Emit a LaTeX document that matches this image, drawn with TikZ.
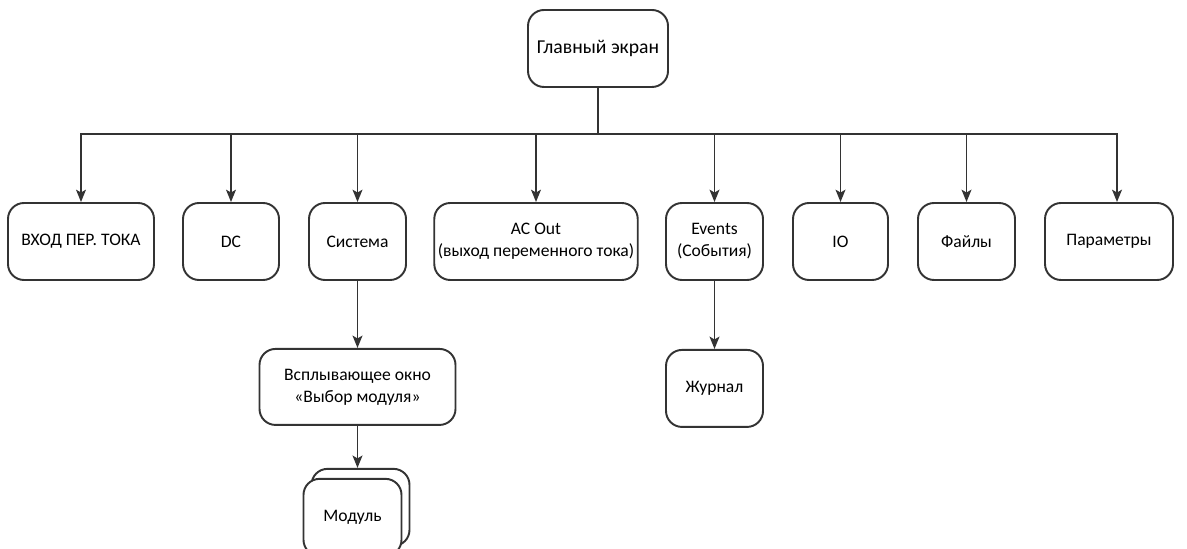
\documentclass[tikz,border=0pt]{standalone}
\usepackage{fontspec}
\setmainfont{Carlito}
\usetikzlibrary{positioning, arrows.meta, shadows}

\begin{document}
\begin{tikzpicture}[line width=1.1pt, draw=black!80, every node/.style={draw=black!80, line width=1.1pt, rounded corners=0.32cm, minimum height=1.54cm, align=center, font=\fontsize{10}{12.5}\selectfont, inner sep=2pt}, >={Stealth[length=7pt, width=5.6pt, inset=1.6pt]}]
    \useasboundingbox (0,0) rectangle (23.74,-10.98);

    \node[minimum width=2.8cm, font=\fontsize{11.2}{14}\selectfont] (main) at (11.96,-0.97) {Главный экран};

    \node[minimum width=2.92cm] (vhod) at (1.62,-4.83) {ВХОД ПЕР. ТОКА};
    \node[minimum width=1.92cm] (dc) at (4.62,-4.83) {DC};
    \node[minimum width=1.94cm] (sistema) at (7.15,-4.83) {Система};
    \node[minimum width=4.04cm] (acout) at (10.72,-4.83) {AC Out\\(выход переменного тока)};
    \node[minimum width=1.94cm] (events) at (14.29,-4.83) {Events\\(События)};
    \node[minimum width=1.9cm] (io) at (16.81,-4.83) {IO};
    \node[minimum width=1.94cm] (files) at (19.33,-4.83) {Файлы};
    \node[minimum width=2.56cm] (params) at (22.18,-4.83) {Параметры};

    \node[minimum width=3.92cm, minimum height=1.52cm] (popup) [below=1.34cm of sistema] {Всплывающее окно\\«Выбор модуля»};
    \node[minimum width=1.96cm, fill=white, copy shadow={shadow xshift=0.16cm, shadow yshift=0.2cm}] (modul) [below=1.04cm of popup, xshift=-0.1cm] {Модуль};
    \node[minimum width=1.94cm] (zhurnal) [below=1.36cm of events] {Журнал};

    \draw[->] (main.south) -- ++(0,-0.92) -| (vhod.north);
    \draw[->] (main.south) -- ++(0,-0.92) -| (dc.north);
    \draw[->] (main.south) -- ++(0,-0.92) -| (sistema.north);
    \draw[->] (main.south) -- ++(0,-0.92) -| (acout.north);
    \draw[->] (main.south) -- ++(0,-0.92) -| (events.north);
    \draw[->] (main.south) -- ++(0,-0.92) -| (io.north);
    \draw[->] (main.south) -- ++(0,-0.92) -| (files.north);
    \draw[->] (main.south) -- ++(0,-0.92) -| ([xshift=0.16cm]params.north);
    \draw[->] (sistema) -- (popup);
    \draw[->] (popup.south) -- ([shift={(0.1cm,0.2cm)}]modul.north);
    \draw[->] (events) -- (zhurnal);
\end{tikzpicture}
\end{document}
